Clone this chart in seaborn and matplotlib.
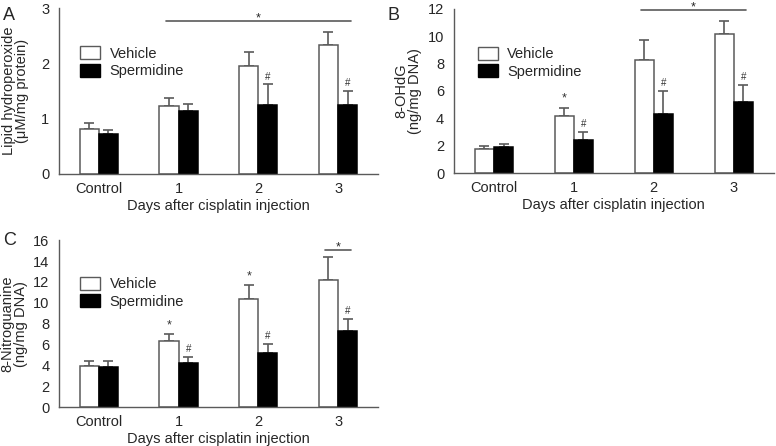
import numpy as np
import pandas as pd
import matplotlib
matplotlib.use("Agg")
import matplotlib.pyplot as plt
import matplotlib.patches as mpatches
import seaborn as sns

# ----------- Data -----------
days = ["Control", "1", "2", "3"]
groups = ["Vehicle", "Spermidine"]

lipid_vehicle = [0.82, 1.22, 1.96, 2.34]
lipid_vehicle_err = [0.10, 0.16, 0.24, 0.23]
lipid_sperm = [0.73, 1.13, 1.25, 1.25]
lipid_sperm_err = [0.06, 0.13, 0.37, 0.25]

ohdg_vehicle = [1.75, 4.15, 8.30, 10.20]
ohdg_vehicle_err = [0.22, 0.63, 1.40, 0.90]
ohdg_sperm = [1.92, 2.45, 4.35, 5.22]
ohdg_sperm_err = [0.23, 0.57, 1.68, 1.23]

nitro_vehicle = [3.90, 6.30, 10.35, 12.15]
nitro_vehicle_err = [0.55, 0.70, 1.35, 2.25]
nitro_sperm = [3.80, 4.20, 5.20, 7.25]
nitro_sperm_err = [0.65, 0.60, 0.85, 1.20]

# marks above bars: (group, day index, symbol)
lipid_marks = [("Spermidine", 2, "#"), ("Spermidine", 3, "#")]
ohdg_marks = [("Vehicle", 1, "*"), ("Spermidine", 1, "#"), ("Spermidine", 2, "#"), ("Spermidine", 3, "#")]
nitro_marks = [("Vehicle", 1, "*"), ("Spermidine", 1, "#"), ("Vehicle", 2, "*"),
               ("Spermidine", 2, "#"), ("Spermidine", 3, "#")]

# significance bars: (x start, x end, y)
lipid_sig = (0.84, 3.16, 2.77)
ohdg_sig = (1.84, 3.15, 11.92)
nitro_sig = (2.84, 3.16, 15.1)

GRAY = "#5a5a5a"


def make_df(veh, sperm):
    return pd.DataFrame({
        "day": days * 2,
        "group": ["Vehicle"] * 4 + ["Spermidine"] * 4,
        "value": list(veh) + list(sperm),
    })


def panel(ax, veh, veh_err, sperm, sperm_err, ymax, ystep, ylabel, ylab_x, marks, sig, leg_anchor):
    df = make_df(veh, sperm)
    sns.barplot(data=df, x="day", y="value", hue="group", hue_order=groups,
                palette=["white", "black"], width=0.48, errorbar=None,
                ax=ax, legend=False, zorder=2)
    errs = {"Vehicle": veh_err, "Spermidine": sperm_err}
    tops = {}
    for cont, g, ec in zip(ax.containers, groups, [GRAY, "black"]):
        for i, p in enumerate(cont.patches):
            p.set_edgecolor(ec)
            p.set_linewidth(1.1)
            xc = p.get_x() + p.get_width() / 2
            h = p.get_height()
            ax.errorbar(xc, h, yerr=[[0], [errs[g][i]]], fmt="none",
                        ecolor=GRAY, elinewidth=1.2, capsize=3.6, capthick=1.2, zorder=1)
            tops[(g, i)] = (xc, h + errs[g][i])
    for g, i, sym in marks:
        xc, top = tops[(g, i)]
        ax.annotate(sym, (xc, top), xytext=(0, 2), textcoords="offset points",
                    ha="center", va="bottom", fontsize=7 if sym == "#" else 9, color="#333333")
    x0, x1, ys = sig
    ax.plot([x0, x1], [ys, ys], color=GRAY, lw=1.2, clip_on=False)
    ax.annotate("*", ((x0 + x1) / 2, ys), xytext=(0, 1.5), textcoords="offset points",
                ha="center", va="center", fontsize=9, annotation_clip=False)

    ax.set_xlim(-0.5, 3.5)
    ax.set_ylim(0, ymax)
    ax.set_yticks(np.arange(0, ymax + 0.01, ystep))
    ax.set_xticks(range(4))
    ax.set_xticklabels(days)
    ax.set_xticks([-0.5, 0.5, 1.5, 2.5, 3.5], minor=True)
    ax.tick_params(axis="x", which="major", length=0, pad=6, labelsize=10.5)
    ax.tick_params(axis="x", which="minor", length=4, color=GRAY, direction="out")
    ax.tick_params(axis="y", length=4, color=GRAY, labelsize=10.5, pad=3)
    for s in ["top", "right"]:
        ax.spines[s].set_visible(False)
    for s in ["left", "bottom"]:
        ax.spines[s].set_color(GRAY)
        ax.spines[s].set_linewidth(1.0)
    ax.set_xlabel("Days after cisplatin injection", fontsize=10.5, labelpad=2)
    ax.set_ylabel(ylabel, fontsize=10.5, linespacing=0.95)
    ax.yaxis.set_label_coords(ylab_x, 0.5)
    ax.set_facecolor("white")

    handles = [mpatches.Patch(facecolor="white", edgecolor=GRAY, label="Vehicle"),
               mpatches.Patch(facecolor="black", edgecolor="black", label="Spermidine")]
    ax.legend(handles=handles, loc="upper left", bbox_to_anchor=leg_anchor,
              frameon=False, handlelength=1.37, handleheight=1.0, labelspacing=0.2,
              handletextpad=0.65, borderaxespad=0, borderpad=0, fontsize=10.5)


sns.set_style("white")
plt.rcParams["font.family"] = ["Liberation Sans", "DejaVu Sans"]
plt.rcParams["font.size"] = 10

fig = plt.figure(figsize=(7.76, 4.46), dpi=100)
axA = fig.add_axes([0.076, 0.610, 0.411, 0.372])
axB = fig.add_axes([0.585, 0.612, 0.412, 0.368])
axC = fig.add_axes([0.076, 0.0874, 0.411, 0.374])

panel(axA, lipid_vehicle, lipid_vehicle_err, lipid_sperm, lipid_sperm_err, 3, 1,
      "Lipid hydroperoxide\n(\u03bcM/mg protein)", -0.094, lipid_marks, lipid_sig, (0.066, 0.77))
panel(axB, ohdg_vehicle, ohdg_vehicle_err, ohdg_sperm, ohdg_sperm_err, 12, 2,
      "8-OHdG\n(ng/mg DNA)", -0.10, ohdg_marks, ohdg_sig, (0.075, 0.77))
panel(axC, nitro_vehicle, nitro_vehicle_err, nitro_sperm, nitro_sperm_err, 16, 2,
      "8-Nitroguanine\n(ng/mg DNA)", -0.097, nitro_marks, nitro_sig, (0.066, 0.78))

fig.text(0.004, 0.966, "A", fontsize=13, va="center")
fig.text(0.499, 0.966, "B", fontsize=13, va="center")
fig.text(0.004, 0.460, "C", fontsize=13, va="center")

fig.savefig("out.png", dpi=100, facecolor="white")
